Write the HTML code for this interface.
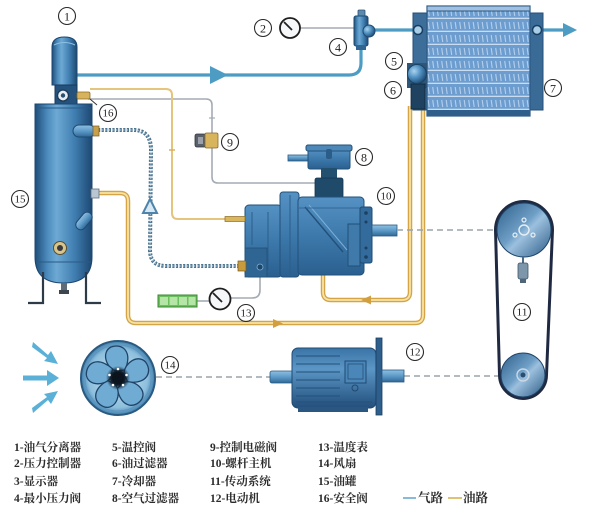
<!DOCTYPE html>
<html><head><meta charset="utf-8">
<style>
html,body{margin:0;padding:0;background:#fff;}
svg{display:block;}
.lg{font-family:"Liberation Serif","Noto Serif CJK SC","Noto Sans CJK SC",serif;font-weight:bold;font-size:11.5px;fill:#2b2b2b;}
.cn{font-family:"Liberation Serif",serif;font-size:12px;fill:#222;text-anchor:middle;}
.cn2{font-family:"Liberation Serif",serif;font-size:10px;fill:#222;text-anchor:middle;}
</style></head>
<body>
<svg width="602" height="513" viewBox="0 0 602 513" xmlns="http://www.w3.org/2000/svg">
<defs>
 <linearGradient id="gTank" x1="0" y1="0" x2="1" y2="0">
  <stop offset="0" stop-color="#1f4d78"/>
  <stop offset="0.22" stop-color="#4c8cbd"/>
  <stop offset="0.38" stop-color="#6ea9d4"/>
  <stop offset="0.7" stop-color="#3f7db0"/>
  <stop offset="1" stop-color="#1d4872"/>
 </linearGradient>
 <linearGradient id="gComp" x1="0" y1="0" x2="0" y2="1">
  <stop offset="0" stop-color="#5592c3"/>
  <stop offset="0.5" stop-color="#3d79ab"/>
  <stop offset="1" stop-color="#2a6090"/>
 </linearGradient>
 <linearGradient id="gShaft" x1="0" y1="0" x2="0" y2="1">
  <stop offset="0" stop-color="#8fc0e2"/>
  <stop offset="0.5" stop-color="#5d9ac8"/>
  <stop offset="1" stop-color="#2f6896"/>
 </linearGradient>
 <linearGradient id="gMotor" x1="0" y1="0" x2="0" y2="1">
  <stop offset="0" stop-color="#3a74a6"/>
  <stop offset="0.35" stop-color="#5b96c6"/>
  <stop offset="1" stop-color="#234f7b"/>
 </linearGradient>
 <linearGradient id="gPul" x1="0" y1="0" x2="1" y2="1">
  <stop offset="0" stop-color="#2d5f8a"/>
  <stop offset="0.45" stop-color="#6f9fc6"/>
  <stop offset="0.55" stop-color="#9cc0de"/>
  <stop offset="1" stop-color="#2a5a84"/>
 </linearGradient>
 <radialGradient id="gFan" cx="0.5" cy="0.5" r="0.5">
  <stop offset="0" stop-color="#cfe6f3"/>
  <stop offset="0.8" stop-color="#8dbfdd"/>
  <stop offset="1" stop-color="#3f7fae"/>
 </radialGradient>
 <radialGradient id="gHub" cx="0.5" cy="0.5" r="0.5">
  <stop offset="0" stop-color="#000"/>
  <stop offset="0.6" stop-color="#10202e"/>
  <stop offset="1" stop-color="#10202e" stop-opacity="0"/>
 </radialGradient>
 <radialGradient id="gSph" cx="0.35" cy="0.35" r="0.7">
  <stop offset="0" stop-color="#a9d3ef"/>
  <stop offset="0.5" stop-color="#4f8fc0"/>
  <stop offset="1" stop-color="#1e4a74"/>
 </radialGradient>
 <pattern id="fins" patternUnits="userSpaceOnUse" x="427" y="6" width="4.5" height="13">
  <rect width="4.5" height="13" fill="#6d9dcf"/>
  <line x1="1.2" y1="3" x2="2.2" y2="10" stroke="#b3cfec" stroke-width="1.1"/>
  <line x1="0" y1="12.3" x2="4.5" y2="12.3" stroke="#dbe8f5" stroke-width="1.1"/>
 </pattern>
</defs>

<rect width="602" height="513" fill="#ffffff"/>

<!-- ===== thin grey control lines ===== -->
<path d="M88,99 L206,99 Q212,99 212,105 L212,177 Q212,183 218,183 L318,183" fill="none" stroke="#a3abb3" stroke-width="1.6"/>
<line x1="209" y1="118" x2="215" y2="118" stroke="#a3abb3" stroke-width="1.2"/>
<path d="M260,270 L260,290 Q260,298 252,298 L231,298" fill="none" stroke="#a3abb3" stroke-width="1.6"/>
<line x1="197" y1="301" x2="209" y2="301" stroke="#a3abb3" stroke-width="1.6"/>
<line x1="300" y1="28" x2="356" y2="28" stroke="#a3abb3" stroke-width="1.6"/>

<!-- ===== thin yellow oil return ===== -->
<path d="M90,89 L166,89 Q172,89 172,95 L172,213 Q172,219 178,219 L226,219" fill="none" stroke="#e5c47c" stroke-width="2"/>
<line x1="169" y1="150" x2="175" y2="150" stroke="#d4ad5a" stroke-width="1.4"/>

<!-- ===== thick oil loops ===== -->
<g fill="none" stroke-linejoin="round">
 <path d="M97,193 L120,193 Q128,193 128,201 L128,315 Q128,323 136,323 L415,323 Q423,323 423,315 L423,106" stroke="#d4a446" stroke-width="4.5"/>
 <path d="M97,193 L120,193 Q128,193 128,201 L128,315 Q128,323 136,323 L415,323 Q423,323 423,315 L423,106" stroke="#f7e3a6" stroke-width="1.8"/>
 <path d="M410,106 L410,292 Q410,300 402,300 L331,300 Q323,300 323,292 L323,265" stroke="#d4a446" stroke-width="4.5"/>
 <path d="M410,106 L410,292 Q410,300 402,300 L331,300 Q323,300 323,292 L323,265" stroke="#f7e3a6" stroke-width="1.8"/>
</g>
<polygon points="273,319 283,323.5 273,328" fill="#d19f3e"/>
<polygon points="371,295.5 361,300 371,304.5" fill="#d19f3e"/>

<!-- ===== chain hose ===== -->
<path d="M98,130 L135,130 Q151,131 151,150 L150,250 Q150,266 166,266 L240,266" fill="none" stroke="#4e7590" stroke-width="4" stroke-dasharray="2.2 1.4"/>
<path d="M98,130 L135,130 Q151,131 151,150 L150,250 Q150,266 166,266 L240,266" fill="none" stroke="#9fbccf" stroke-width="1.4" stroke-dasharray="1.2 2.4"/>
<polygon points="150,199 143,213 157,213" fill="#d7e8f2" stroke="#4e84ab" stroke-width="2"/>

<!-- ===== air line ===== -->
<path d="M77,75 L349,75 Q361,75 361,63 L361,47" fill="none" stroke="#4d9cc4" stroke-width="3.2"/>
<polygon points="210,66 228,75 210,84" fill="#4d9cc4"/>
<line x1="368" y1="30" x2="416" y2="30" stroke="#4d9cc4" stroke-width="3.2"/>
<line x1="538" y1="30" x2="565" y2="30" stroke="#4d9cc4" stroke-width="3.2"/>
<polygon points="563,23 577,30 563,37" fill="#4d9cc4"/>

<!-- ===== tank (15) + separator (1) ===== -->
<path d="M52,85 L52,47 Q52,37 64.5,37 Q77,37 77,47 L77,85 Z" fill="url(#gTank)" stroke="#1d4670" stroke-width="1"/>
<path d="M54,45 Q64.5,40 75,45" fill="none" stroke="#8cc0e3" stroke-width="1"/>
<rect x="55" y="85" width="22" height="19" fill="#24527d" stroke="#173a5c" stroke-width="1"/>
<circle cx="63" cy="95.5" r="5.5" fill="#e9eef2" stroke="#1b3b58" stroke-width="1.3"/>
<circle cx="63" cy="95.5" r="2.2" fill="#2b4f70"/>
<rect x="77" y="92" width="13" height="7" rx="1.5" fill="#d7b35e" stroke="#8d6b25" stroke-width="0.8"/>
<line x1="90" y1="99" x2="97" y2="105" stroke="#333" stroke-width="1"/>
<path d="M35,104 L92,104 L92,257 Q92,283 63.5,283 Q35,283 35,257 Z" fill="url(#gTank)" stroke="#1d4670" stroke-width="1"/>
<line x1="36" y1="108" x2="91" y2="108" stroke="#2a5a86" stroke-width="1"/>
<line x1="36" y1="262" x2="91" y2="262" stroke="#2a5a86" stroke-width="1"/>
<!-- oil outlet pill -->
<rect x="73" y="125" width="22" height="12" rx="6" fill="url(#gShaft)" stroke="#1e4a72" stroke-width="1"/>
<rect x="93" y="126" width="6" height="10" fill="#c6a04a" stroke="#7d5e20" stroke-width="0.7"/>
<!-- lower fitting -->
<rect x="91" y="189" width="8" height="9" fill="#b9c7d2" stroke="#5f6f7c" stroke-width="0.8"/>
<!-- sight glass -->
<rect x="74" y="216" width="20" height="10" rx="5" fill="url(#gShaft)" stroke="#1e4a72" stroke-width="1" transform="rotate(-50 84 221)"/>
<circle cx="60" cy="248" r="6.5" fill="#d8c58e" stroke="#5b4d2a" stroke-width="1"/>
<circle cx="60" cy="248" r="3" fill="#3a3a3a"/>
<!-- drain + legs -->
<rect x="61" y="283" width="6" height="8" fill="#5d6c78"/>
<rect x="59" y="290" width="10" height="4" fill="#3b4650"/>
<path d="M43,272 L43,303 L28,303 M86,272 L86,303 L101,303" fill="none" stroke="#2d3b48" stroke-width="2.2"/>

<!-- ===== solenoid 9 ===== -->
<rect x="195" y="134" width="11" height="13" rx="2" fill="#59606a" stroke="#2f343a" stroke-width="0.8"/>
<rect x="198" y="137" width="5" height="7" fill="#9aa1aa"/>
<rect x="205" y="133" width="13" height="15" rx="1.5" fill="#d8b55c" stroke="#8a6a25" stroke-width="0.8"/>

<!-- ===== display 3 + gauge 13 ===== -->
<rect x="158" y="295" width="39" height="12" fill="#6bbf5c" stroke="#3a8a30" stroke-width="1"/>
<g fill="#b5e6a8"><rect x="160" y="297" width="8" height="8"/><rect x="169.5" y="297" width="8" height="8"/><rect x="179" y="297" width="8" height="8"/><rect x="188.5" y="297" width="7" height="8"/></g>
<circle cx="220" cy="299" r="10.5" fill="#f6f7f8" stroke="#1e1e1e" stroke-width="1.8"/>
<line x1="213" y1="293" x2="222" y2="302" stroke="#222" stroke-width="1.8"/>

<!-- ===== gauge 2 + valve 4 ===== -->
<circle cx="290" cy="28" r="10" fill="#f6f7f8" stroke="#1e1e1e" stroke-width="1.8"/>
<line x1="284" y1="22" x2="292" y2="30" stroke="#222" stroke-width="1.8"/>
<rect x="358" y="10" width="7" height="7" rx="1" fill="#5d89ad" stroke="#2a5276" stroke-width="0.8"/>
<rect x="354" y="16" width="14" height="30" rx="2" fill="url(#gTank)" stroke="#1f4a72" stroke-width="1"/>
<circle cx="369" cy="31" r="6" fill="url(#gSph)" stroke="#1f4a72" stroke-width="1"/>
<rect x="356" y="45" width="10" height="5" fill="#2f6590"/>

<!-- ===== cooler 7 ===== -->
<rect x="413" y="13" width="15" height="97" fill="#3c6e99" stroke="#244f78" stroke-width="1"/>
<rect x="529" y="13" width="14" height="97" fill="#3a6b96" stroke="#244f78" stroke-width="1"/>
<rect x="427" y="6" width="103" height="110" fill="url(#fins)" stroke="#2c5985" stroke-width="1.2"/>
<rect x="427" y="6" width="103" height="5" fill="#9fc0e0" stroke="#2c5985" stroke-width="1"/>
<rect x="427" y="110" width="103" height="6" fill="#2f5e8a"/>
<circle cx="418" cy="30" r="4.5" fill="#a8cde6" stroke="#183e62" stroke-width="1.5"/>
<circle cx="537" cy="30" r="4.5" fill="#a8cde6" stroke="#183e62" stroke-width="1.5"/>
<!-- temp valve 5 / oil filter 6 -->
<rect x="407" y="63" width="20" height="25" fill="#2d5678"/>
<rect x="411" y="84" width="14" height="25" fill="#1f4260" stroke="#10283e" stroke-width="0.8"/>
<circle cx="417" cy="74" r="9.5" fill="url(#gSph)" stroke="#1b4366" stroke-width="1"/>

<!-- ===== compressor 10 + air filter 8 ===== -->
<rect x="288" y="155" width="21" height="6" fill="url(#gShaft)" stroke="#2a5a84" stroke-width="0.8"/>
<rect x="308" y="149" width="42" height="20" rx="2" fill="url(#gComp)" stroke="#22507a" stroke-width="1"/>
<rect x="306" y="145" width="46" height="6" rx="2" fill="#4d88b8" stroke="#22507a" stroke-width="1"/>
<rect x="326" y="149" width="6" height="10" rx="2" fill="#2b5d88"/>
<rect x="321" y="168" width="16" height="11" fill="#23506f"/>
<rect x="315" y="178" width="28" height="20" rx="2" fill="#1f4a6a" stroke="#143650" stroke-width="0.8"/>
<!-- left end cover -->
<rect x="245" y="205" width="37" height="72" rx="4" fill="url(#gComp)" stroke="#22507a" stroke-width="1"/>
<rect x="245" y="248" width="22" height="29" fill="#2f6593" stroke="#22507a" stroke-width="0.8"/>
<line x1="252" y1="212" x2="252" y2="245" stroke="#2a5d8a" stroke-width="1"/>
<line x1="268" y1="212" x2="268" y2="270" stroke="#2a5d8a" stroke-width="1"/>
<!-- flange -->
<rect x="280" y="192" width="19" height="85" rx="3" fill="url(#gComp)" stroke="#22507a" stroke-width="1"/>
<line x1="290" y1="195" x2="290" y2="274" stroke="#2a5d8a" stroke-width="1"/>
<!-- body -->
<rect x="298" y="197" width="66" height="78" rx="4" fill="url(#gComp)" stroke="#22507a" stroke-width="1"/>
<line x1="305" y1="207" x2="343" y2="252" stroke="#22507a" stroke-width="1.4"/>
<line x1="309" y1="205" x2="347" y2="250" stroke="#79afd8" stroke-width="1"/>
<line x1="299" y1="208" x2="363" y2="208" stroke="#2a5d8a" stroke-width="0.8"/>
<!-- right plate + end cap -->
<rect x="348" y="224" width="12" height="42" fill="#3f7aab" stroke="#22507a" stroke-width="1"/>
<rect x="360" y="207" width="12" height="56" rx="2" fill="#336c9c" stroke="#1f4a72" stroke-width="1"/>
<g fill="#1d3f60"><circle cx="366" cy="213" r="1.8"/><circle cx="366" cy="257" r="1.8"/><circle cx="366" cy="222" r="1.5"/><circle cx="366" cy="248" r="1.5"/></g>
<rect x="372" y="225" width="25" height="11" fill="url(#gShaft)" stroke="#2a5a84" stroke-width="0.8"/>
<!-- fittings -->
<rect x="225" y="216.5" width="20" height="5" fill="#dab65c" stroke="#8d6b25" stroke-width="0.7"/>
<rect x="238" y="261" width="8" height="10" fill="#c99b3b" stroke="#7a5a1c" stroke-width="0.7"/>
<circle cx="260" cy="267" r="3" fill="#1e4668" stroke="#7fb0d6" stroke-width="0.8"/>

<!-- ===== dashed drive lines ===== -->
<g stroke="#9aa4ac" stroke-width="1.6" stroke-dasharray="6 4" fill="none">
 <line x1="397" y1="230" x2="497" y2="230"/>
 <line x1="156" y1="377" x2="270" y2="377"/>
 <line x1="404" y1="376" x2="501" y2="376"/>
</g>

<!-- ===== belt + pulleys (11) ===== -->
<path d="M495.5,230 A28.5,28.5 0 0 1 552.5,230 L546.5,375 A23.5,23.5 0 0 1 499.5,375 Z" fill="none" stroke="#1f2a42" stroke-width="3"/>
<circle cx="524" cy="230" r="27" fill="url(#gPul)" stroke="#1e4468" stroke-width="1"/>
<circle cx="524" cy="230" r="5" fill="none" stroke="#e6eef5" stroke-width="1.4"/>
<g fill="none" stroke="#e6eef5" stroke-width="1.2"><circle cx="524" cy="220" r="2"/><circle cx="515" cy="235" r="2"/><circle cx="533" cy="235" r="2"/></g>
<line x1="523" y1="257" x2="523" y2="264" stroke="#4b6b86" stroke-width="2"/>
<rect x="518" y="263" width="10" height="16" rx="2" fill="#7d96aa" stroke="#3f5568" stroke-width="0.8"/>
<rect x="520" y="279" width="6" height="4" fill="#4f6578"/>
<circle cx="523" cy="375" r="22" fill="url(#gPul)" stroke="#1e4468" stroke-width="1"/>
<circle cx="523" cy="375" r="6" fill="none" stroke="#c9d9e6" stroke-width="1.4"/>
<circle cx="523" cy="375" r="2.5" fill="#2a4d70"/>

<!-- ===== motor 12 ===== -->
<rect x="270" y="371" width="23" height="12" rx="2" fill="url(#gShaft)" stroke="#2a5a84" stroke-width="0.8"/>
<rect x="292" y="348" width="84" height="60" rx="6" fill="url(#gMotor)" stroke="#1f4a72" stroke-width="1"/>
<g stroke="#23507a" stroke-width="1">
 <line x1="296" y1="356" x2="340" y2="356"/><line x1="296" y1="364" x2="340" y2="364"/>
 <line x1="296" y1="372" x2="340" y2="372"/><line x1="296" y1="380" x2="340" y2="380"/>
 <line x1="296" y1="388" x2="340" y2="388"/><line x1="296" y1="396" x2="340" y2="396"/>
 <line x1="296" y1="402" x2="372" y2="402"/>
</g>
<rect x="345" y="361" width="21" height="22" fill="#4b86b8" stroke="#1f4a72" stroke-width="1"/>
<rect x="348" y="364" width="15" height="15" fill="none" stroke="#23507a" stroke-width="0.8"/>
<circle cx="355" cy="388" r="3" fill="none" stroke="#1f4a72" stroke-width="1"/>
<rect x="298" y="407" width="70" height="5" fill="#2a5782"/>
<rect x="376" y="338" width="6" height="77" fill="#2e5f8c" stroke="#1a3d5e" stroke-width="0.8"/>
<rect x="382" y="370" width="22" height="12" fill="url(#gShaft)" stroke="#2a5a84" stroke-width="0.8"/>

<!-- ===== fan 14 ===== -->
<circle cx="118" cy="378" r="37" fill="url(#gFan)" stroke="#2b5a80" stroke-width="2"/>
<circle cx="118" cy="378" r="33" fill="none" stroke="#5d95bf" stroke-width="1"/>
<g transform="translate(118,378)" fill="#6fabd3" stroke="#1f4468" stroke-width="1.3">
 <path id="bl" d="M-2,-7 C-12,-10 -17,-26 -7,-31 C4,-35 15,-27 7,-8 Z"/>
 <path d="M-2,-7 C-12,-10 -17,-26 -7,-31 C4,-35 15,-27 7,-8 Z" transform="rotate(72)"/>
 <path d="M-2,-7 C-12,-10 -17,-26 -7,-31 C4,-35 15,-27 7,-8 Z" transform="rotate(144)"/>
 <path d="M-2,-7 C-12,-10 -17,-26 -7,-31 C4,-35 15,-27 7,-8 Z" transform="rotate(216)"/>
 <path d="M-2,-7 C-12,-10 -17,-26 -7,-31 C4,-35 15,-27 7,-8 Z" transform="rotate(288)"/>
</g>
<circle cx="118" cy="378" r="12" fill="url(#gHub)"/>
<circle cx="118" cy="378" r="6" fill="#0b141c"/>
<g fill="#fff"><circle cx="118" cy="369" r="1.3"/><circle cx="126.5" cy="375" r="1.3"/><circle cx="123" cy="385" r="1.3"/><circle cx="113" cy="385" r="1.3"/><circle cx="109.5" cy="375" r="1.3"/></g>

<!-- air arrows -->
<g fill="#5ab0d6">
 <polygon points="23,375.5 47,375.5 47,370 59,378 47,386 47,380.5 23,380.5"/>
 <polygon points="33,342 48,355 51,351 58,364 44,361 47,358 32,347" />
 <polygon points="33,413 48,400 51,404 58,391 44,394 47,397 32,408" />
</g>

<!-- ===== circled labels ===== -->
<g fill="none" stroke="#2a2a2a" stroke-width="1.1">
 <circle cx="67" cy="16" r="8.5"/><circle cx="263" cy="28" r="8.5"/><circle cx="338" cy="47" r="8.5"/>
 <circle cx="394" cy="61" r="8.5"/><circle cx="393" cy="90" r="8.5"/><circle cx="553" cy="88" r="8.5"/>
 <circle cx="364" cy="157" r="8.5"/><circle cx="230" cy="142" r="8.5"/><circle cx="386" cy="196" r="8.5"/>
 <circle cx="522" cy="312" r="8.5"/><circle cx="415" cy="352" r="8.5"/><circle cx="246" cy="313" r="8.5"/>
 <circle cx="170" cy="365" r="8.5"/><circle cx="20" cy="199" r="8.5"/><circle cx="108" cy="113" r="8.5"/>
</g>
<text class="cn" x="67" y="20.5">1</text>
<text class="cn" x="263" y="32.5">2</text>
<text class="cn" x="338" y="51.5">4</text>
<text class="cn" x="394" y="65.5">5</text>
<text class="cn" x="393" y="94.5">6</text>
<text class="cn" x="553" y="92.5">7</text>
<text class="cn" x="364" y="161.5">8</text>
<text class="cn" x="230" y="146.5">9</text>
<text class="cn2" x="386" y="199.5" textLength="11" lengthAdjust="spacingAndGlyphs">10</text>
<text class="cn2" x="522" y="315.5" textLength="11" lengthAdjust="spacingAndGlyphs">11</text>
<text class="cn2" x="415" y="355.5" textLength="11" lengthAdjust="spacingAndGlyphs">12</text>
<text class="cn2" x="246" y="316.5" textLength="11" lengthAdjust="spacingAndGlyphs">13</text>
<text class="cn2" x="170" y="368.5" textLength="11" lengthAdjust="spacingAndGlyphs">14</text>
<text class="cn2" x="20" y="202.5" textLength="11" lengthAdjust="spacingAndGlyphs">15</text>
<text class="cn2" x="108" y="116.5" textLength="11" lengthAdjust="spacingAndGlyphs">16</text>

<!-- ===== legend ===== -->
<text class="lg" x="14" y="451">1-油气分离器</text>
<text class="lg" x="14" y="467">2-压力控制器</text>
<text class="lg" x="14" y="485">3-显示器</text>
<text class="lg" x="14" y="502">4-最小压力阀</text>
<text class="lg" x="112" y="451">5-温控阀</text>
<text class="lg" x="112" y="467">6-油过滤器</text>
<text class="lg" x="112" y="485">7-冷却器</text>
<text class="lg" x="112" y="502">8-空气过滤器</text>
<text class="lg" x="210" y="451">9-控制电磁阀</text>
<text class="lg" x="210" y="467">10-螺杆主机</text>
<text class="lg" x="210" y="485">11-传动系统</text>
<text class="lg" x="210" y="502">12-电动机</text>
<text class="lg" x="318" y="451">13-温度表</text>
<text class="lg" x="318" y="467">14-风扇</text>
<text class="lg" x="318" y="485">15-油罐</text>
<text class="lg" x="318" y="502">16-安全阀</text>
<line x1="403" y1="498" x2="416" y2="498" stroke="#6aaad0" stroke-width="1.6"/>
<text class="lg" x="418" y="502" style="font-size:12.5px">气路</text>
<line x1="448" y1="498" x2="462" y2="498" stroke="#d8b253" stroke-width="1.6"/>
<text class="lg" x="463" y="502" style="font-size:12.5px">油路</text>
</svg>
</body></html>
